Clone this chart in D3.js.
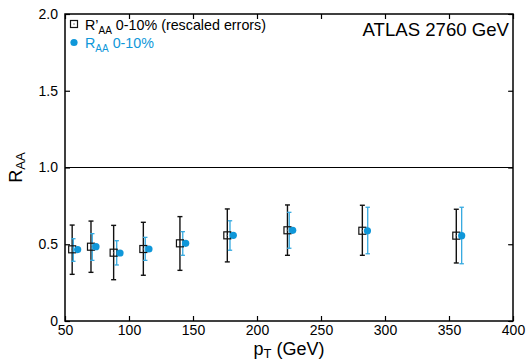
<!DOCTYPE html>
<html><head><meta charset="utf-8">
<script src="https://cdn.jsdelivr.net/npm/d3@7"></script>
<style>
body{margin:0;background:#fff;}
svg{display:block;font-family:"Liberation Sans",Arial,Helvetica,sans-serif;}
</style></head>
<body>
<svg id="c" width="529" height="361"></svg>
<script>
// Data
const xTicks = [50,100,150,200,250,300,350,400];
const yTicks = [0,0.5,1.0,1.5,2.0];
// R'AA (rescaled errors) - black squares
const rpX    = [55.6, 70.3, 88.0, 111.2, 139.8, 176.8, 223.8, 282.3, 355.7];
const rpY    = [0.467,0.484,0.445,0.469,0.506,0.558,0.591,0.588,0.556];
const rpHi   = [0.625,0.651,0.623,0.643,0.680,0.730,0.756,0.754,0.728];
const rpLo   = [0.304,0.317,0.269,0.298,0.330,0.385,0.428,0.428,0.378];
// RAA - blue circles
const raX    = [59.9, 74.2, 93.0, 115.6, 144.3, 181.5, 227.9, 286.3, 359.9];
const raBarX = [56.5, 71.3, 90.4, 112.7, 142.0, 178.9, 225.2, 286.5, 359.9];
const raY    = [0.465,0.484,0.443,0.469,0.506,0.558,0.591,0.588,0.556];
const raHi   = [0.536,0.569,0.523,0.545,0.582,0.653,0.708,0.741,0.741];
const raLo   = [0.389,0.395,0.365,0.395,0.428,0.461,0.474,0.438,0.373];

const svg = d3.select("#c");
const m = {l:65, r:513, t:14, b:321};
const x = d3.scaleLinear().domain([50,400]).range([m.l,m.r]);
const y = d3.scaleLinear().domain([0,2]).range([m.b,m.t]);
const blue = "#0f97d9";
const blueBar = "#35a9e0";

// axes
const fmtY = d => d===0 ? "0" : d.toFixed(1);
const ax = (g, axis) => {
  g.call(axis);
  g.select(".domain").remove();
  g.selectAll("line").attr("stroke","#000").attr("stroke-width",1.2);
  g.selectAll("text").attr("fill","#000").style("font-size","14px").style("font-family","'Liberation Sans',Arial,sans-serif");
};
svg.append("g").attr("transform",`translate(0,${m.b})`)
  .call(g=>ax(g,d3.axisBottom(x).tickValues(xTicks).tickSize(-5).tickPadding(4).tickFormat(d3.format("d"))));
svg.append("g").attr("transform",`translate(0,${m.t})`)
  .call(g=>ax(g,d3.axisTop(x).tickValues(xTicks).tickSize(-5).tickFormat("")));
svg.append("g").attr("transform",`translate(${m.l},0)`)
  .call(g=>ax(g,d3.axisLeft(y).tickValues(yTicks).tickSize(-5).tickPadding(7).tickFormat(fmtY)));
svg.append("g").attr("transform",`translate(${m.r},0)`)
  .call(g=>ax(g,d3.axisRight(y).tickValues(yTicks).tickSize(-5).tickFormat("")));

// frame
svg.append("rect").attr("x",m.l).attr("y",m.t).attr("width",m.r-m.l).attr("height",m.b-m.t)
  .attr("fill","none").attr("stroke","#000").attr("stroke-width",1.5);
// reference line
svg.append("line").attr("x1",m.l).attr("x2",m.r).attr("y1",y(1)).attr("y2",y(1))
  .attr("stroke","#000").attr("stroke-width",1.2);

const rp = rpX.map((v,i)=>({x:v,y:rpY[i],hi:rpHi[i],lo:rpLo[i]}));
const ra = raX.map((v,i)=>({x:v,bx:raBarX[i],y:raY[i],hi:raHi[i],lo:raLo[i]}));
const gBars = svg.append("g");
function bar(g, xx, hi, lo, col, cw, sw){
  g.append("line").attr("x1",xx).attr("x2",xx).attr("y1",y(hi)).attr("y2",y(lo)).attr("stroke",col).attr("stroke-width",sw);
  [hi,lo].forEach(v=>g.append("line").attr("x1",xx-cw).attr("x2",xx+cw).attr("y1",y(v)).attr("y2",y(v)).attr("stroke",col).attr("stroke-width",sw));
}
rp.forEach(d=>bar(gBars, x(d.x), d.hi, d.lo, "#111", 2.5, 1.4));
ra.forEach(d=>bar(gBars, x(d.bx), d.hi, d.lo, blueBar, 2.2, 1.3));
// squares
svg.append("g").selectAll("rect").data(rp).join("rect")
  .attr("x",d=>x(d.x)-3.5).attr("y",d=>y(d.y)-3.5).attr("width",7).attr("height",7)
  .attr("fill","none").attr("stroke","#111").attr("stroke-width",1.2);
svg.append("g").selectAll("circle").data(rp).join("circle")
  .attr("cx",d=>x(d.x)).attr("cy",d=>y(d.y)).attr("r",0.7).attr("fill","#555");
// blue circles
svg.append("g").selectAll("circle").data(ra).join("circle")
  .attr("cx",d=>x(d.x)).attr("cy",d=>y(d.y)).attr("r",3.6).attr("fill",blue);

// legend
const lg = svg.append("g");
lg.append("rect").attr("x",70.5).attr("y",20.5).attr("width",7).attr("height",7)
  .attr("fill","none").attr("stroke","#111").attr("stroke-width",1.2);
lg.append("circle").attr("cx",74).attr("cy",24).attr("r",0.7).attr("fill","#555");
lg.append("circle").attr("cx",74).attr("cy",42.5).attr("r",3.6).attr("fill",blue);
const t1 = lg.append("text").attr("x",85).attr("y",29.5).style("font-size","14.3px").attr("fill","#000");
t1.append("tspan").text("R’");
t1.append("tspan").attr("dy",4).style("font-size","10px").text("AA");
t1.append("tspan").attr("dy",-4).text(" 0-10% (rescaled errors)");
const t2 = lg.append("text").attr("x",85).attr("y",48).style("font-size","14.3px").attr("fill",blue);
t2.append("tspan").text("R");
t2.append("tspan").attr("dy",4).style("font-size","10px").text("AA");
t2.append("tspan").attr("dy",-4).text(" 0-10%");

svg.append("text").attr("x",509).attr("y",36).attr("text-anchor","end")
  .style("font-size","18.6px").attr("fill","#000").text("ATLAS 2760 GeV");

// axis titles
const xt = svg.append("text").attr("x",289).attr("y",355).attr("text-anchor","middle").style("font-size","18px").attr("fill","#000");
xt.append("tspan").text("p");
xt.append("tspan").attr("dy",3).style("font-size","13px").text("T");
xt.append("tspan").attr("dy",-3).text(" (GeV)");
const yt = svg.append("text").attr("transform",`translate(22,${(m.t+m.b)/2}) rotate(-90)`).attr("text-anchor","middle").style("font-size","18px").attr("fill","#000");
yt.append("tspan").text("R");
yt.append("tspan").attr("dy",3).style("font-size","13px").text("AA");
</script>
</body></html>
